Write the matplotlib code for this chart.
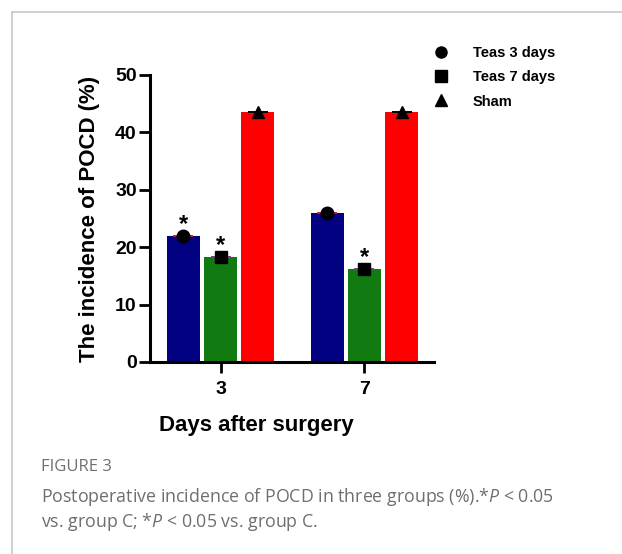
import numpy as np
import matplotlib.pyplot as plt
from matplotlib.lines import Line2D

# -----------------------------
# Data
# -----------------------------
days = ["3", "7"]
groups = ["Teas 3 days", "Teas 7 days", "Sham"]
teas3 = [22.0, 26.0]
teas7 = [18.3, 16.2]
sham = [43.6, 43.6]
signif = [[True, True, False], [False, True, False]]

colors = ["#000080", "#117a10", "#ff0000"]
cap_colors = ["#e0102a", "#9030a0", "#000000"]
markers = ["o", "s", "^"]

plt.rcParams["font.family"] = ["Liberation Sans", "DejaVu Sans"]
plt.rcParams["mathtext.fontset"] = "custom"
plt.rcParams["mathtext.it"] = "Open Sans:italic"
plt.rcParams["mathtext.rm"] = "Open Sans"

fig = plt.figure(figsize=(6.22, 5.54), dpi=100)

# frame of the figure panel
fig.add_artist(Line2D([12 / 622, 12 / 622], [0, 1 - 12 / 554], color="#c8c8c8", lw=1.2))
fig.add_artist(Line2D([12 / 622, 1], [1 - 12 / 554, 1 - 12 / 554], color="#c8c8c8", lw=1.2))

ax = fig.add_axes([150 / 622, 192 / 554, 284 / 622, 287 / 554])

x = np.arange(len(days))
width = 0.229
offset = 0.26
series = [teas3, teas7, sham]

for i, vals in enumerate(series):
    xs = x + (i - 1) * offset
    ax.bar(xs, vals, width=width, color=colors[i], zorder=2)
    ax.errorbar(xs, vals, yerr=0.0, fmt="none", ecolor=cap_colors[i],
                capsize=7, capthick=1.2, elinewidth=1, zorder=3)
    ax.plot(xs, vals, linestyle="none", marker=markers[i], color="black",
            markersize=9, zorder=4)
    for j, v in enumerate(vals):
        if signif[j][i]:
            ax.text(xs[j], v + 0.9, "*", ha="center", va="baseline",
                    fontsize=17, fontweight="bold")

ax.set_xlim(-0.49, 1.483)
ax.set_ylim(0, 50)
ax.set_yticks([0, 10, 20, 30, 40, 50])
ax.set_xticks(x)
ax.set_xticklabels(days)

for s in ["top", "right"]:
    ax.spines[s].set_visible(False)
for s in ["left", "bottom"]:
    ax.spines[s].set_linewidth(2.2)

ax.tick_params(axis="both", width=2.0, length=8, labelsize=14)
ax.tick_params(axis="y", pad=1.5)
ax.tick_params(axis="x", pad=5.5)
for lab in ax.get_xticklabels() + ax.get_yticklabels():
    lab.set_fontweight("bold")

ax.set_ylabel("The incidence of POCD (%)", fontsize=16, fontweight="bold")
ax.yaxis.set_label_coords(-0.175, 0.5)
ax.set_xlabel("Days after surgery", fontsize=16, fontweight="bold")
ax.xaxis.set_label_coords(0.373, -0.183)

handles = [Line2D([], [], linestyle="none", marker=m, color="black", markersize=8)
           for m in markers]
fig.legend(handles, groups, loc="upper left", bbox_to_anchor=(413 / 622, 1 - 33 / 554),
           frameon=False, prop={"weight": "bold", "size": 10.5},
           handletextpad=1.2, labelspacing=0.7)

# caption
cap_font = ["Open Sans", "DejaVu Sans"]
fig.text(41 / 622, 1 - 467 / 554, "FIGURE 3", fontsize=12, color="#6e6e6e",
         family=cap_font, va="center")
fig.text(41 / 622, 1 - 497 / 554,
         "Postoperative incidence of POCD in three groups (%).*$P$ < 0.05",
         fontsize=12.8, color="#6e6e6e", family=cap_font, va="center")
fig.text(41 / 622, 1 - 522 / 554, "vs. group C; *$P$ < 0.05 vs. group C.",
         fontsize=12.8, color="#6e6e6e", family=cap_font, va="center")

fig.savefig("out.png", dpi=100)
